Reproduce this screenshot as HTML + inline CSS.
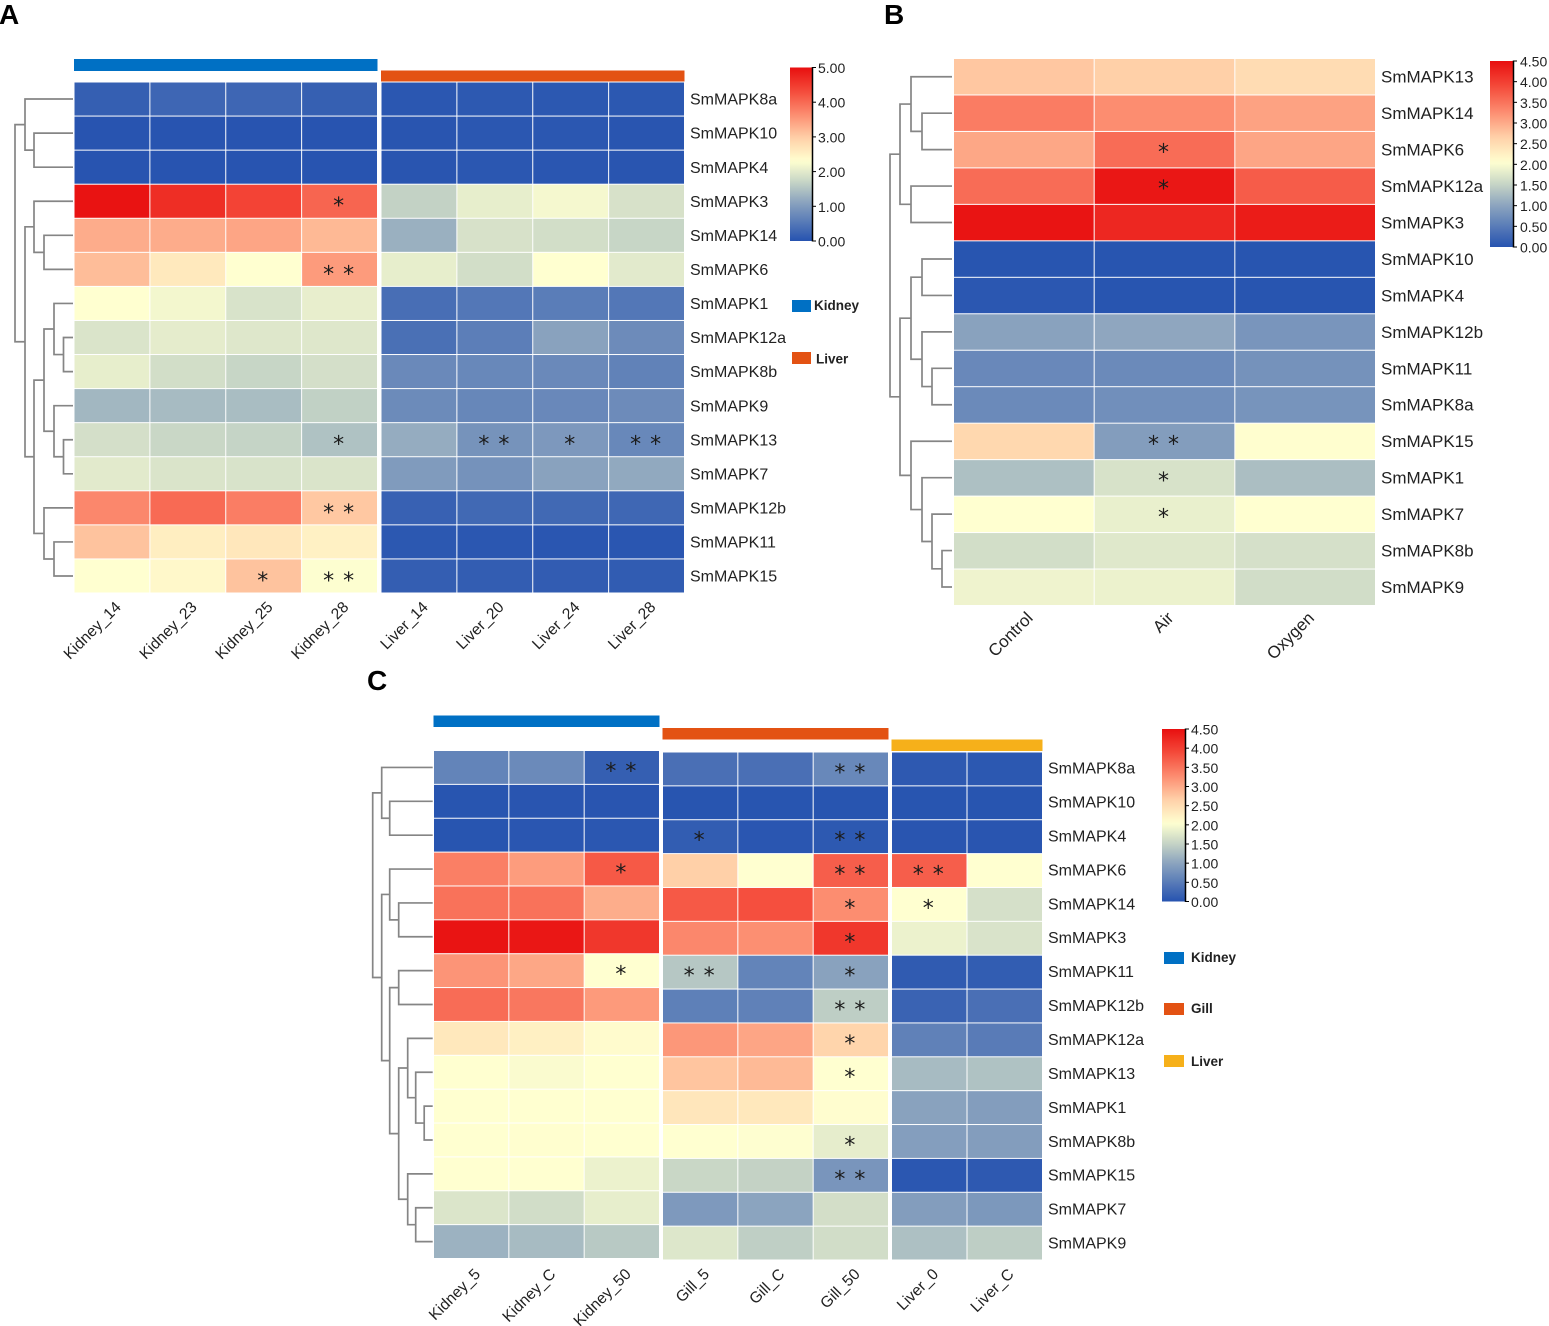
<!DOCTYPE html>
<html lang="en">
<head>
<meta charset="utf-8">
<title>SmMAPK expression heatmaps</title>
<style>
html,body{margin:0;padding:0;background:#fff;}
svg{display:block;}
text{font-family:"Liberation Sans",sans-serif;fill:#222;}
.star{font-family:"DejaVu Sans",sans-serif;fill:#1c1c1c;}
</style>
</head>
<body>
<svg id="figure" xmlns="http://www.w3.org/2000/svg" width="1549" height="1326" viewBox="0 0 1549 1326">
<defs id="defs"></defs>
<text x="-1" y="24" font-size="28" font-weight="bold" style="fill:#000">A</text>
<text x="884" y="24" font-size="28" font-weight="bold" style="fill:#000">B</text>
<text x="367" y="690" font-size="28" font-weight="bold" style="fill:#000">C</text>
</svg>
<script>
/* ---------- Panel A data ---------- */
const aGenes = ["SmMAPK8a","SmMAPK10","SmMAPK4","SmMAPK3","SmMAPK14","SmMAPK6","SmMAPK1","SmMAPK12a","SmMAPK8b","SmMAPK9","SmMAPK13","SmMAPK7","SmMAPK12b","SmMAPK11","SmMAPK15"];
const aSamples = ["Kidney_14","Kidney_23","Kidney_25","Kidney_28","Liver_14","Liver_20","Liver_24","Liver_28"];
const aValues = [
[0.17,0.27,0.27,0.18,0.05,0.08,0.07,0.07],
[0.02,0.02,0.02,0.02,0.03,0.05,0.05,0.03],
[0.02,0.02,0.02,0.02,0.03,0.05,0.04,0.03],
[4.95,4.65,4.40,4.05,1.68,2.05,2.20,1.88],
[3.33,3.33,3.40,3.20,1.27,1.88,1.83,1.72],
[3.16,2.62,2.30,3.50,2.05,1.83,2.30,2.00],
[2.30,2.18,1.90,2.06,0.38,0.50,0.58,0.50],
[1.92,2.03,1.96,1.96,0.40,0.60,1.10,0.78],
[2.05,1.83,1.72,1.85,0.75,0.73,0.75,0.65],
[1.35,1.40,1.42,1.66,0.77,0.72,0.74,0.78],
[1.85,1.74,1.70,1.48,1.22,0.88,0.96,0.73],
[2.00,1.92,1.90,1.92,1.00,0.87,1.10,1.18],
[3.70,4.00,3.80,3.05,0.20,0.30,0.30,0.28],
[3.10,2.55,2.65,2.50,0.07,0.05,0.04,0.04],
[2.30,2.40,3.10,2.28,0.15,0.14,0.13,0.12]];
const aStars = [[3,3,1],[5,3,2],[10,3,1],[10,5,2],[10,6,1],[10,7,2],[12,3,2],[14,2,1],[14,3,2]];
const aTicks = [0,1,2,3,4,5];
const aLegend = ["Kidney","Liver"];
const aTree = [58,[48,0,[39,1,2]],[48,[39,3,[29,4,5]],[39,[29,[19,6,[9.5,7,8]],[19,9,[9.5,10,11]]],[29,12,[19,13,14]]]]];

/* ---------- Panel B data ---------- */
const bGenes = ["SmMAPK13","SmMAPK14","SmMAPK6","SmMAPK12a","SmMAPK3","SmMAPK10","SmMAPK4","SmMAPK12b","SmMAPK11","SmMAPK8a","SmMAPK15","SmMAPK1","SmMAPK7","SmMAPK8b","SmMAPK9"];
const bSamples = ["Control","Air","Oxygen"];
const bValues = [
[2.74,2.66,2.50],
[3.42,3.27,3.08],
[3.03,3.57,3.05],
[3.57,4.42,3.72],
[4.45,4.25,4.37],
[0.02,0.02,0.02],
[0.05,0.02,0.02],
[0.98,1.03,0.82],
[0.66,0.68,0.78],
[0.68,0.74,0.80],
[2.56,0.92,2.06],
[1.30,1.68,1.28],
[2.05,1.85,2.05],
[1.63,1.76,1.66],
[1.90,1.88,1.62]];
const bStars = [[2,1,1],[3,1,1],[10,1,2],[11,1,1],[12,1,1]];
const bTicks = [0,0.5,1,1.5,2,2.5,3,3.5,4,4.5];
const bTree = [62,[52,[41,0,[30,1,2]],[41,3,4]],[52,[41,[30,5,6],[30,7,[20,8,9]]],[41,10,[30,11,[20,12,[10,13,14]]]]]];

/* ---------- Panel C data ---------- */
const cGenes = ["SmMAPK8a","SmMAPK10","SmMAPK4","SmMAPK6","SmMAPK14","SmMAPK3","SmMAPK11","SmMAPK12b","SmMAPK12a","SmMAPK13","SmMAPK1","SmMAPK8b","SmMAPK15","SmMAPK7","SmMAPK9"];
const cSamples = ["Kidney_5","Kidney_C","Kidney_50","Gill_5","Gill_C","Gill_50","Liver_0","Liver_C"];
const cValues = [
[0.60,0.68,0.15,0.35,0.35,0.65,0.08,0.06],
[0.02,0.03,0.03,0.02,0.02,0.02,0.02,0.02],
[0.02,0.04,0.05,0.12,0.04,0.07,0.03,0.03],
[3.40,3.13,3.75,2.66,2.05,3.70,3.70,2.05],
[3.52,3.52,2.98,3.75,3.84,3.27,2.05,1.66],
[4.45,4.42,4.08,3.32,3.25,4.08,1.88,1.70],
[3.20,3.03,2.05,1.38,0.60,0.98,0.10,0.12],
[3.57,3.47,3.15,0.55,0.57,1.45,0.20,0.35],
[2.35,2.25,2.10,3.18,3.05,2.60,0.57,0.50],
[2.05,2.00,2.05,2.76,2.86,2.05,1.25,1.32],
[2.05,2.05,2.05,2.37,2.35,2.07,0.98,0.92],
[2.05,2.06,2.05,2.05,2.04,1.82,0.93,0.92],
[2.05,2.05,1.88,1.55,1.50,0.82,0.05,0.08],
[1.72,1.62,1.83,0.87,1.00,1.64,0.92,0.85],
[1.15,1.25,1.40,1.74,1.46,1.62,1.30,1.45]];
const cStars = [[0,2,2],[0,5,2],[2,3,1],[2,5,2],[3,2,1],[3,5,2],[3,6,2],[4,5,1],[4,6,1],[5,5,1],[6,2,1],[6,3,2],[6,5,1],[7,5,2],[8,5,1],[9,5,1],[11,5,1],[12,5,2]];
const cTicks = [0,0.5,1,1.5,2,2.5,3,3.5,4,4.5];
const cLegend = ["Kidney","Gill","Liver"];
const cTree = [60,[51,0,[43,1,2]],[51,[43,3,[34,4,5]],[43,[34,6,7],[34,[25,8,[17,9,[8.5,10,11]]],[25,12,[17,13,14]]]]]];

/* ---------- Drawing ---------- */
const NS = "http://www.w3.org/2000/svg";
const svg = document.getElementById("figure");
const defs = document.getElementById("defs");
const BLUE = "#0070c4", ORANGE = "#e35213", AMBER = "#f6b01a";

function make(tag, attrs, parent) {
  const el = document.createElementNS(NS, tag);
  for (const k in attrs) el.setAttribute(k, attrs[k]);
  (parent || svg).appendChild(el);
  return el;
}
const stops = [[0,[38,83,176]],[0.25,[142,166,191]],[0.375,[200,214,198]],[0.44,[228,236,204]],[0.5,[255,255,208]],[0.625,[255,208,168]],[0.75,[252,140,112]],[0.875,[244,74,58]],[1,[232,15,15]]];
function colorAt(t) {
  t = Math.max(0, Math.min(1, t));
  for (let i = 1; i < stops.length; i++) {
    if (t <= stops[i][0]) {
      const a = stops[i-1], b = stops[i], f = (t - a[0]) / (b[0] - a[0]);
      return "rgb(" + a[1].map((c, j) => Math.round(c + (b[1][j] - c) * f)).join(",") + ")";
    }
  }
  return "rgb(232,15,15)";
}
function colorScale(mid, max) {
  return v => colorAt(v <= mid ? 0.5 * v / mid : 0.5 + 0.5 * (v - mid) / (max - mid));
}

function drawPanel(p) {
  const g = make("g", {});
  
  
  const color = colorScale(p.mid, p.max);
  const rows = p.genes.length;

  /* column geometry from groups */
  const cols = [];
  p.groups.forEach(gr => {
    const w = (gr.x1 - gr.x0) / gr.n;
    for (let i = 0; i < gr.n; i++) cols.push({x: gr.x0 + i * w, w: w, top: gr.top, bottom: gr.bottom});
    if (gr.barColor) {
      const bar = make("rect", {x: gr.x0, y: gr.barY, width: gr.x1 - gr.x0, height: gr.barH, fill: gr.barColor}, g);
      
      
    }
  });

  /* cells */
  p.values.forEach((row, r) => {
    row.forEach((v, c) => {
      const col = cols[c], h = (col.bottom - col.top) / rows;
      const cell = make("rect", {x: col.x + 0.5, y: col.top + r * h + 0.5, width: col.w - 1, height: h - 1, fill: color(v)}, g);
      
      
    });
  });

  /* significance stars */
  p.stars.forEach(s => {
    const col = cols[s[1]], h = (col.bottom - col.top) / rows;
    const cx = col.x + col.w / 2 - 1, cy = col.top + (s[0] + 0.5) * h;
    for (let i = 0; i < s[2]; i++) {
      const off = s[2] === 2 ? (i === 0 ? -10 : 10) : 0;
      const st = make("text", {x: cx + off, y: cy + p.starDy, "font-size": 22, "text-anchor": "middle", class: "star"}, g);
      st.textContent = "*";
      
      
    }
  });

  /* row labels */
  p.genes.forEach((name, r) => {
    const t = make("text", {x: p.labelX, y: p.rowLabelTop + (r + 0.5) * p.rowLabelH + p.fontSize * 0.35, "font-size": p.fontSize}, g);
    t.textContent = name;
    
    
  });

  /* column labels */
  p.samples.forEach((name, c) => {
    const col = cols[c];
    const x = col.x + col.w / 2 + p.colLabelDx;
    const t = make("text", {x: x, y: p.colLabelY, "font-size": p.colFontSize, "text-anchor": "end", transform: "rotate(-45 " + x + " " + p.colLabelY + ")"}, g);
    t.textContent = name;
    
    
  });

  /* dendrogram */
  const yOf = r => p.treeTop + (r + 0.5) * p.treeRowH;
  let d = "";
  function walk(n) {
    if (typeof n === "number") return {x: p.treeX, y: yOf(n)};
    const a = walk(n[1]), b = walk(n[2]);
    const x = p.treeX - n[0];
    d += "M" + a.x + " " + a.y + "H" + x + "V" + b.y + "H" + b.x;
    return {x: x, y: (a.y + b.y) / 2};
  }
  walk(p.tree);
  const tree = make("path", {d: d, fill: "none", stroke: "#858585", "stroke-width": 1.7}, g);
  
  

  /* colour bar */
  const gid = p.id + "-grad";
  const grad = make("linearGradient", {id: gid, x1: 0, y1: 1, x2: 0, y2: 0}, defs);
  for (let i = 0; i <= 40; i++) {
    make("stop", {offset: i / 40, "stop-color": color(p.max * i / 40)}, grad);
  }
  const cb = p.bar;
  const yScale = v => cb.y1 - (cb.y1 - cb.y0) * v / p.max;
  const rect = make("rect", {x: cb.x, y: cb.y0, width: cb.w, height: cb.y1 - cb.y0, fill: "url(#" + gid + ")"}, g);
  
  
  const axis = make("line", {x1: cb.x + cb.w + 0.5, x2: cb.x + cb.w + 0.5, y1: cb.y0 - 0.5, y2: cb.y1 + 0.5, stroke: "#000", "stroke-width": 1.5}, g);
  
  
  p.ticks.forEach(v => {
    const y = yScale(v);
    const tk = make("line", {x1: cb.x + cb.w, x2: cb.x + cb.w + 4, y1: y, y2: y, stroke: "#000", "stroke-width": 1}, g);
    
    
    const t = make("text", {x: cb.labelX, y: y + 5.5, "font-size": 14}, g);
    t.textContent = v.toFixed(2);
    
    
  });

  /* legend */
  (p.legend || []).forEach(it => {
    const sw = make("rect", {x: it.x, y: it.y, width: it.w, height: 12, fill: it.color}, g);
    
    
    const t = make("text", {x: it.tx, y: it.ty, "font-size": 13.5, "font-weight": "bold"}, g);
    t.textContent = it.name;
    
    
  });
}

drawPanel({
  id: "panel-a", genes: aGenes, samples: aSamples, values: aValues, stars: aStars, ticks: aTicks, tree: aTree,
  mid: 2.3, max: 5, fontSize: 16, colFontSize: 15.6, labelX: 690, rowLabelTop: 82, rowLabelH: 34.07, colLabelDx: 10, colLabelY: 608, starDy: 12,
  treeX: 73, treeTop: 82, treeRowH: 34.07,
  groups: [
    {x0: 74, x1: 377.5, n: 4, top: 82, bottom: 593, barColor: BLUE, barY: 59, barH: 12},
    {x0: 381, x1: 684.5, n: 4, top: 82, bottom: 593, barColor: ORANGE, barY: 70.5, barH: 11}
  ],
  bar: {x: 790, w: 22, y0: 67.5, y1: 241, labelX: 818},
  legend: [
    {name: aLegend[0], x: 792, y: 300, w: 19, tx: 814, ty: 310, color: BLUE},
    {name: aLegend[1], x: 792, y: 352, w: 19, tx: 816, ty: 363.5, color: ORANGE}
  ]
});

drawPanel({
  id: "panel-b", genes: bGenes, samples: bSamples, values: bValues, stars: bStars, ticks: bTicks, tree: bTree,
  mid: 2.05, max: 4.5, fontSize: 17, colFontSize: 17, labelX: 1381, rowLabelTop: 58.5, rowLabelH: 36.45, colLabelDx: 10, colLabelY: 619, starDy: 10,
  treeX: 952, treeTop: 58.5, treeRowH: 36.45,
  groups: [{x0: 953.5, x1: 1375.5, n: 3, top: 58.5, bottom: 605.5}],
  bar: {x: 1490, w: 23, y0: 61, y1: 247, labelX: 1520}
});

drawPanel({
  id: "panel-c", genes: cGenes, samples: cSamples, values: cValues, stars: cStars, ticks: cTicks, tree: cTree,
  mid: 2.05, max: 4.5, fontSize: 16, colFontSize: 15.6, labelX: 1048, rowLabelTop: 751, rowLabelH: 33.93, colLabelDx: 10, colLabelY: 1275, starDy: 11,
  treeX: 432.7, treeTop: 750.5, treeRowH: 33.87,
  groups: [
    {x0: 433.5, x1: 659.5, n: 3, top: 750.5, bottom: 1258.5, barColor: BLUE, barY: 715.5, barH: 11.5},
    {x0: 662.5, x1: 888.5, n: 3, top: 752, bottom: 1260, barColor: ORANGE, barY: 728, barH: 11.5},
    {x0: 891.5, x1: 1042.5, n: 2, top: 752, bottom: 1260, barColor: AMBER, barY: 739.5, barH: 11.5}
  ],
  bar: {x: 1162, w: 23, y0: 729, y1: 901.5, labelX: 1191},
  legend: [
    {name: cLegend[0], x: 1164, y: 952, w: 20, tx: 1191, ty: 962, color: BLUE},
    {name: cLegend[1], x: 1164, y: 1003, w: 20, tx: 1191, ty: 1013, color: ORANGE},
    {name: cLegend[2], x: 1164, y: 1055, w: 20, tx: 1191, ty: 1066, color: AMBER}
  ]
});
</script>
</body>
</html>
